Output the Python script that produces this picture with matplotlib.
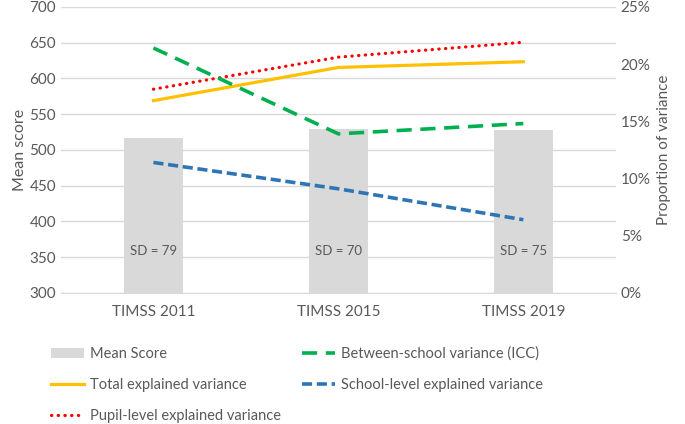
import matplotlib
import matplotlib.pyplot as plt
from matplotlib.ticker import FuncFormatter, MultipleLocator

matplotlib.use("Agg")

plt.rcParams["font.family"] = ["Lato", "DejaVu Sans"]

cycles = ["TIMSS 2011", "TIMSS 2015", "TIMSS 2019"]
mean_score = [516, 529, 528]
sd_labels = ["SD = 79", "SD = 70", "SD = 75"]
total_explained = [16.8, 19.7, 20.2]
pupil_explained = [17.8, 20.6, 21.9]
between_school = [21.4, 13.9, 14.8]
school_explained = [11.4, 9.1, 6.4]

text_grey = "#595959"
grid_grey = "#d9d9d9"

fig = plt.figure(figsize=(6.85, 4.24), dpi=100)
ax = fig.add_axes([0.089, 0.309, 0.81, 0.675])
ax2 = ax.twinx()

x = range(len(cycles))
bars = ax.bar(x, mean_score, width=0.32, color="#d9d9d9", label="Mean Score", zorder=2)
for xi, lab in zip(x, sd_labels):
    ax.text(xi, 358, lab, ha="center", va="center", fontsize=9.5, color=text_grey, zorder=3)

ax.set_ylim(300, 700)
ax.set_xlim(-0.5, 2.5)
ax.yaxis.set_major_locator(MultipleLocator(50))
ax.grid(axis="y", color=grid_grey, lw=1, zorder=0)
ax.set_axisbelow(True)
ax.set_xticks(list(x))
ax.set_xticklabels(cycles)
ax.set_ylabel("Mean score", color=text_grey, fontsize=11.5, labelpad=2)

ax2.set_ylim(0, 25)
ax2.yaxis.set_major_locator(MultipleLocator(5))
ax2.yaxis.set_major_formatter(FuncFormatter(lambda v, p: f"{v:.0f}%"))
ax2.set_ylabel("Proportion of variance", color=text_grey, fontsize=11, labelpad=5)

l_total, = ax2.plot(x, total_explained, color="#ffc000", lw=2.3, label="Total explained variance")
l_pupil, = ax2.plot(x, pupil_explained, color="#ff0000", lw=2.3, dashes=(0.1, 2.0),
                    dash_capstyle="round", label="Pupil-level explained variance")
l_between, = ax2.plot(x, between_school, color="#00b050", lw=2.6, dashes=(4.2, 2.4),
                      label="Between-school variance (ICC)")
l_school, = ax2.plot(x, school_explained, color="#2e75b6", lw=2.6, dashes=(2.8, 1.3),
                     label="School-level explained variance")

for a in (ax, ax2):
    for s in a.spines.values():
        s.set_visible(False)
    a.tick_params(length=0, labelcolor=text_grey, labelsize=11)
ax.tick_params(axis="x", pad=9)
ax.spines["bottom"].set_visible(True)
ax.spines["bottom"].set_color(grid_grey)

fig.legend(handles=[bars, l_total, l_pupil, l_between, l_school], ncol=2,
           loc="upper left", bbox_to_anchor=(0.055, 0.213), frameon=False,
           fontsize=10.5, labelcolor=text_grey, handlelength=2.3, handletextpad=0.4,
           columnspacing=1.4, labelspacing=1.15)

fig.savefig("out.png", dpi=100)
